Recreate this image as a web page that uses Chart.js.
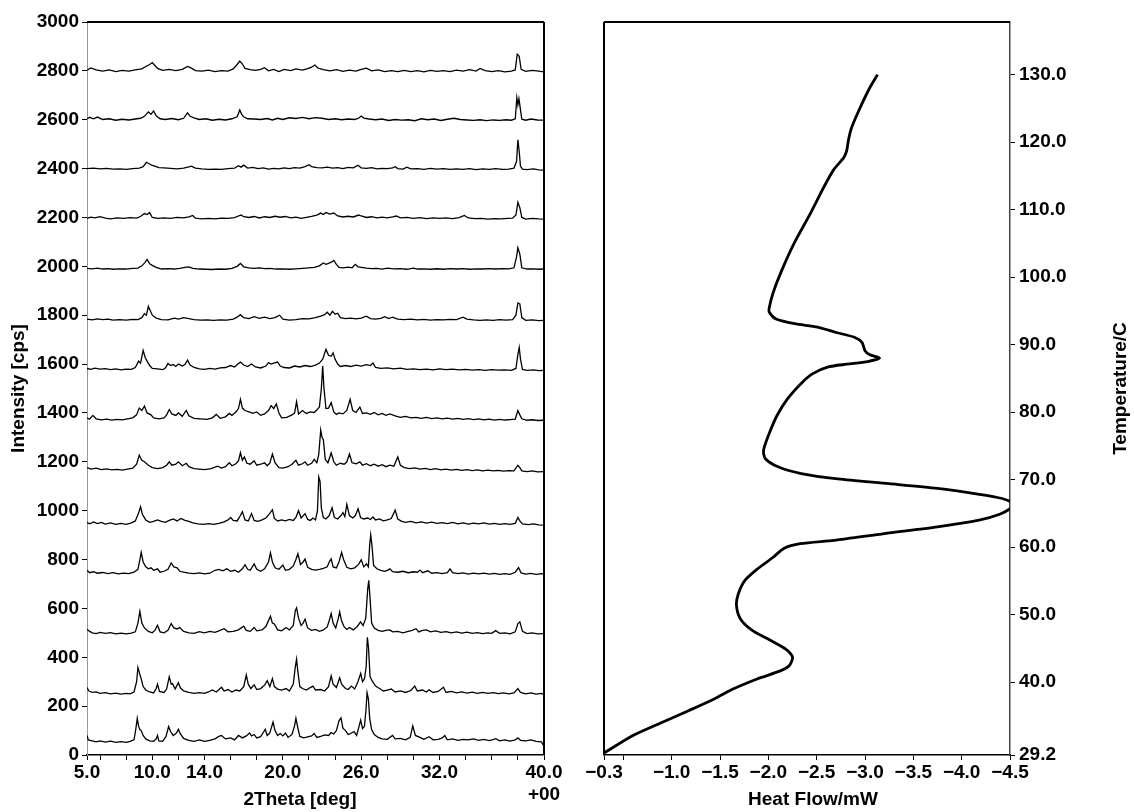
<!DOCTYPE html>
<html>
<head>
<meta charset="utf-8">
<script src="https://cdn.jsdelivr.net/npm/chart.js@4.4.1/dist/chart.umd.min.js"></script>
<style>
html, body { margin: 0; padding: 0; background: #fff; }
#xrd { position: absolute; left: 0; top: 0; }
#dsc { position: absolute; left: 575px; top: 0; }
</style>
</head>
<body>
<canvas id="xrd" width="575" height="812"></canvas>
<canvas id="dsc" width="559" height="812"></canvas>
<script>
// ========== XRD patterns, [2theta, cps], top trace first ==========
const scan1 = [[5.0,2803],[5.3,2812],[5.7,2804],[6.2,2799],[6.7,2804],[7.2,2797],[7.7,2802],[8.2,2799],[8.7,2804],[9.2,2808],[9.5,2818],[9.8,2826],[10.0,2834],[10.2,2822],[10.4,2810],[10.8,2802],[11.3,2806],[11.8,2801],[12.3,2806],[12.7,2818],[13.0,2811],[13.3,2801],[13.8,2799],[14.3,2803],[14.8,2797],[15.3,2801],[15.8,2799],[16.2,2808],[16.5,2826],[16.7,2840],[16.9,2828],[17.1,2810],[17.5,2805],[17.9,2802],[18.3,2806],[18.6,2813],[18.9,2800],[19.3,2806],[19.7,2797],[20.1,2806],[20.6,2801],[21.0,2808],[21.5,2803],[21.9,2809],[22.2,2815],[22.45,2824],[22.7,2811],[23.1,2805],[23.6,2800],[24.1,2805],[24.6,2798],[25.1,2803],[25.6,2799],[26.0,2806],[26.4,2811],[26.8,2800],[27.3,2804],[27.8,2797],[28.3,2801],[28.8,2797],[29.3,2802],[29.8,2797],[30.3,2801],[30.8,2796],[31.3,2802],[31.8,2798],[32.3,2801],[32.8,2797],[33.3,2803],[33.8,2799],[34.3,2805],[34.8,2799],[35.1,2810],[35.5,2801],[36.0,2797],[36.5,2801],[37.0,2796],[37.5,2799],[37.8,2804],[37.95,2868],[38.1,2860],[38.25,2806],[38.6,2798],[39.1,2802],[39.6,2799],[40.0,2796]];
const scan2 = [[5.0,2603],[5.2,2610],[5.5,2604],[5.8,2611],[6.2,2601],[6.7,2604],[7.2,2598],[7.7,2602],[8.2,2599],[8.7,2603],[9.1,2606],[9.4,2614],[9.7,2632],[9.9,2622],[10.1,2636],[10.3,2616],[10.6,2604],[11.0,2601],[11.5,2605],[12.0,2600],[12.4,2606],[12.7,2628],[12.9,2614],[13.2,2608],[13.6,2601],[14.1,2604],[14.6,2598],[15.1,2602],[15.6,2599],[16.1,2604],[16.5,2612],[16.7,2640],[16.85,2622],[17.0,2612],[17.3,2604],[17.8,2603],[18.3,2601],[18.8,2605],[19.2,2599],[19.6,2606],[20.0,2601],[20.5,2608],[21.0,2605],[21.5,2610],[22.0,2604],[22.5,2609],[23.0,2606],[23.5,2601],[24.0,2604],[24.5,2600],[25.0,2603],[25.5,2601],[25.8,2606],[26.0,2615],[26.2,2607],[26.6,2603],[27.1,2600],[27.6,2603],[28.1,2597],[28.6,2601],[29.1,2598],[29.6,2600],[30.1,2596],[30.6,2604],[31.1,2600],[31.6,2603],[32.1,2597],[32.6,2602],[33.1,2606],[33.6,2601],[34.1,2599],[34.6,2597],[35.1,2600],[35.6,2596],[36.1,2599],[36.6,2597],[37.1,2600],[37.5,2598],[37.8,2604],[37.92,2690],[38.0,2660],[38.08,2686],[38.2,2640],[38.3,2602],[38.6,2598],[39.0,2603],[39.5,2599],[40.0,2598]];
const scan3 = [[5.0,2400],[5.5,2402],[6.0,2399],[6.5,2401],[7.0,2398],[7.5,2399],[8.0,2397],[8.5,2400],[9.0,2402],[9.3,2408],[9.55,2426],[9.75,2420],[9.95,2414],[10.2,2410],[10.5,2404],[10.9,2403],[11.4,2401],[11.9,2399],[12.4,2402],[12.8,2407],[13.0,2410],[13.3,2402],[13.8,2399],[14.3,2397],[14.8,2398],[15.3,2397],[15.8,2400],[16.3,2402],[16.6,2412],[16.8,2406],[17.0,2414],[17.3,2402],[17.7,2405],[18.1,2400],[18.5,2403],[18.9,2398],[19.3,2401],[19.7,2399],[20.1,2403],[20.5,2400],[20.9,2404],[21.3,2402],[21.7,2408],[22.0,2416],[22.2,2408],[22.6,2404],[23.0,2403],[23.4,2406],[23.8,2402],[24.2,2404],[24.6,2400],[25.0,2405],[25.4,2403],[25.75,2414],[26.0,2403],[26.4,2401],[26.8,2404],[27.2,2399],[27.6,2401],[28.0,2400],[28.4,2403],[28.6,2408],[28.8,2400],[29.2,2398],[29.5,2406],[29.8,2399],[30.3,2400],[30.8,2397],[31.3,2401],[31.8,2398],[32.3,2400],[32.8,2397],[33.3,2399],[33.8,2397],[34.3,2400],[34.8,2396],[35.3,2399],[35.8,2397],[36.3,2400],[36.8,2397],[37.3,2398],[37.7,2402],[37.9,2430],[38.0,2518],[38.1,2470],[38.2,2410],[38.35,2398],[38.7,2396],[39.2,2399],[39.6,2395],[40.0,2394]];
const scan4 = [[5.0,2196],[5.3,2201],[5.6,2198],[6.0,2203],[6.4,2197],[6.8,2194],[7.3,2198],[7.8,2196],[8.3,2199],[8.8,2197],[9.1,2204],[9.4,2216],[9.6,2212],[9.8,2220],[10.0,2200],[10.4,2196],[10.9,2198],[11.4,2196],[11.9,2200],[12.4,2198],[12.8,2202],[13.1,2208],[13.3,2197],[13.8,2194],[14.3,2196],[14.8,2194],[15.3,2197],[15.8,2196],[16.3,2199],[16.6,2206],[16.8,2210],[17.0,2203],[17.4,2200],[17.8,2204],[18.2,2198],[18.6,2203],[19.0,2200],[19.4,2205],[19.8,2201],[20.2,2204],[20.6,2198],[21.0,2201],[21.4,2196],[21.8,2200],[22.2,2204],[22.6,2210],[22.9,2218],[23.1,2212],[23.3,2220],[23.6,2214],[23.9,2218],[24.2,2206],[24.6,2202],[25.0,2205],[25.4,2202],[25.8,2210],[26.0,2206],[26.4,2200],[26.8,2203],[27.2,2198],[27.6,2201],[28.0,2198],[28.4,2202],[28.7,2206],[29.0,2198],[29.5,2200],[30.0,2196],[30.5,2199],[31.0,2195],[31.5,2198],[32.0,2196],[32.5,2198],[33.0,2195],[33.5,2199],[33.9,2208],[34.2,2198],[34.7,2195],[35.2,2196],[35.7,2193],[36.2,2195],[36.7,2194],[37.2,2196],[37.6,2197],[37.85,2210],[38.0,2262],[38.15,2240],[38.3,2200],[38.6,2193],[39.1,2196],[39.6,2194],[40.0,2193]];
const scan5 = [[5.0,1992],[5.4,1990],[5.8,1993],[6.2,1989],[6.6,1991],[7.0,1988],[7.5,1990],[8.0,1989],[8.5,1992],[8.9,1993],[9.2,2002],[9.45,2016],[9.6,2028],[9.8,2010],[10.0,2004],[10.3,1996],[10.7,1989],[11.2,1991],[11.7,1989],[12.1,1992],[12.5,1996],[12.8,1998],[13.1,1992],[13.6,1989],[14.1,1988],[14.6,1987],[15.1,1989],[15.6,1988],[16.1,1992],[16.5,2000],[16.75,2012],[17.0,1998],[17.4,1994],[17.8,1992],[18.2,1994],[18.6,1991],[19.0,1992],[19.5,1989],[20.0,1990],[20.5,1988],[21.0,1990],[21.5,1992],[22.0,1994],[22.4,1996],[22.8,2002],[23.1,2014],[23.3,2008],[23.5,2012],[23.75,2018],[23.9,2024],[24.1,2008],[24.3,1996],[24.6,1994],[25.0,1997],[25.3,1994],[25.55,2008],[25.75,1998],[26.0,1996],[26.4,1993],[26.8,1991],[27.2,1992],[27.6,1989],[28.0,1993],[28.5,1990],[29.0,1991],[29.5,1988],[30.0,1993],[30.3,1989],[30.8,1990],[31.3,1988],[31.8,1990],[32.3,1988],[32.8,1991],[33.3,1989],[33.8,1991],[34.3,1988],[34.8,1990],[35.3,1989],[35.8,1991],[36.3,1989],[36.8,1991],[37.3,1990],[37.7,1994],[37.9,2040],[38.0,2076],[38.15,2050],[38.3,1994],[38.7,1989],[39.2,1990],[39.6,1988],[40.0,1989]];
const scan6 = [[5.0,1784],[5.4,1781],[5.8,1785],[6.2,1782],[6.6,1784],[7.0,1780],[7.5,1782],[8.0,1780],[8.5,1783],[8.9,1782],[9.2,1790],[9.4,1806],[9.55,1800],[9.7,1836],[9.85,1818],[10.0,1800],[10.3,1788],[10.7,1782],[11.2,1781],[11.7,1788],[12.0,1784],[12.4,1790],[12.8,1786],[13.2,1782],[13.7,1780],[14.2,1781],[14.7,1779],[15.2,1781],[15.7,1780],[16.2,1784],[16.5,1792],[16.75,1802],[17.0,1790],[17.4,1786],[17.8,1794],[18.2,1787],[18.6,1792],[19.0,1786],[19.4,1790],[19.75,1800],[20.0,1784],[20.5,1780],[21.0,1782],[21.5,1786],[22.0,1785],[22.5,1790],[22.9,1796],[23.2,1802],[23.4,1812],[23.6,1800],[23.8,1816],[24.0,1804],[24.2,1808],[24.4,1790],[24.8,1786],[25.2,1788],[25.6,1785],[26.0,1788],[26.4,1796],[26.7,1786],[27.1,1784],[27.5,1787],[27.8,1794],[28.1,1786],[28.4,1792],[28.8,1784],[29.3,1782],[29.8,1784],[30.3,1781],[30.8,1783],[31.3,1780],[31.8,1782],[32.3,1781],[32.8,1783],[33.3,1782],[33.8,1792],[34.1,1784],[34.6,1781],[35.1,1779],[35.6,1781],[36.1,1779],[36.6,1782],[37.1,1780],[37.6,1782],[37.85,1800],[38.0,1850],[38.15,1846],[38.3,1790],[38.6,1779],[39.1,1781],[39.6,1778],[40.0,1779]];
const scan7 = [[5.0,1582],[5.3,1578],[5.6,1583],[6.0,1579],[6.4,1581],[6.8,1577],[7.2,1580],[7.6,1576],[8.0,1579],[8.4,1578],[8.7,1586],[8.95,1612],[9.1,1604],[9.3,1656],[9.45,1628],[9.6,1612],[9.8,1594],[10.0,1582],[10.4,1580],[10.8,1577],[11.0,1584],[11.2,1602],[11.4,1594],[11.6,1598],[11.8,1590],[12.0,1600],[12.3,1592],[12.5,1598],[12.7,1616],[12.9,1596],[13.2,1586],[13.6,1580],[14.0,1578],[14.4,1582],[14.8,1579],[15.2,1584],[15.6,1586],[16.0,1594],[16.3,1588],[16.55,1600],[16.75,1608],[17.0,1596],[17.3,1590],[17.6,1600],[17.9,1588],[18.3,1584],[18.7,1592],[18.9,1606],[19.1,1600],[19.3,1604],[19.6,1608],[19.8,1592],[20.1,1586],[20.5,1584],[20.9,1592],[21.3,1588],[21.7,1594],[22.1,1590],[22.5,1596],[22.8,1604],[23.05,1620],[23.3,1660],[23.5,1636],[23.7,1632],[23.85,1646],[24.0,1620],[24.2,1600],[24.4,1590],[24.8,1594],[25.2,1590],[25.6,1596],[26.0,1592],[26.4,1598],[26.7,1594],[26.9,1604],[27.1,1586],[27.5,1582],[28.0,1584],[28.5,1580],[29.0,1583],[29.5,1578],[30.0,1580],[30.5,1577],[31.0,1579],[31.5,1576],[32.0,1580],[32.5,1577],[33.0,1579],[33.5,1576],[34.0,1578],[34.5,1575],[35.0,1577],[35.5,1574],[36.0,1577],[36.5,1575],[37.0,1576],[37.5,1574],[37.85,1582],[38.0,1640],[38.1,1668],[38.2,1620],[38.35,1578],[38.7,1574],[39.2,1576],[39.6,1573],[40.0,1574]];
const scan8 = [[5.0,1380],[5.2,1374],[5.45,1390],[5.7,1376],[6.1,1372],[6.5,1375],[6.9,1371],[7.3,1374],[7.7,1372],[8.1,1376],[8.5,1380],[8.8,1392],[9.0,1420],[9.2,1410],[9.4,1428],[9.6,1400],[9.9,1392],[10.1,1380],[10.5,1376],[10.9,1380],[11.1,1392],[11.3,1414],[11.5,1396],[11.8,1390],[12.0,1400],[12.3,1386],[12.6,1410],[12.8,1388],[13.2,1378],[13.7,1376],[14.2,1374],[14.6,1380],[14.9,1394],[15.2,1378],[15.6,1384],[15.9,1398],[16.1,1390],[16.4,1404],[16.6,1418],[16.75,1456],[16.9,1420],[17.1,1410],[17.4,1404],[17.7,1398],[18.0,1404],[18.3,1390],[18.6,1396],[18.9,1410],[19.1,1430],[19.3,1418],[19.5,1437],[19.7,1400],[19.9,1380],[20.3,1382],[20.7,1392],[20.9,1400],[21.05,1446],[21.2,1396],[21.5,1410],[21.8,1398],[22.1,1404],[22.4,1402],[22.6,1412],[22.8,1424],[22.95,1500],[23.05,1592],[23.15,1500],[23.3,1418],[23.5,1420],[23.7,1442],[23.9,1404],[24.1,1394],[24.3,1400],[24.6,1396],[24.9,1410],[25.15,1456],[25.35,1410],[25.6,1402],[25.9,1424],[26.1,1398],[26.4,1400],[26.7,1394],[27.0,1402],[27.3,1392],[27.6,1398],[27.9,1390],[28.2,1396],[28.6,1388],[29.0,1382],[29.4,1386],[29.8,1380],[30.2,1382],[30.6,1378],[31.0,1382],[31.4,1377],[31.8,1380],[32.2,1376],[32.6,1379],[33.0,1375],[33.4,1378],[33.8,1374],[34.2,1377],[34.6,1373],[35.0,1376],[35.4,1372],[35.8,1375],[36.2,1371],[36.6,1374],[37.0,1371],[37.4,1373],[37.8,1375],[38.0,1410],[38.15,1392],[38.3,1376],[38.7,1370],[39.1,1372],[39.5,1369],[40.0,1370]];
const scan9 = [[5.0,1176],[5.3,1170],[5.7,1174],[6.1,1168],[6.5,1171],[6.9,1167],[7.3,1169],[7.7,1166],[8.1,1170],[8.5,1174],[8.8,1190],[9.0,1227],[9.2,1206],[9.4,1200],[9.7,1186],[10.0,1176],[10.4,1172],[10.8,1176],[11.1,1186],[11.3,1200],[11.5,1186],[11.8,1190],[12.0,1200],[12.3,1184],[12.6,1194],[12.8,1180],[13.2,1172],[13.6,1170],[14.0,1168],[14.5,1172],[15.0,1182],[15.3,1174],[15.6,1180],[15.9,1196],[16.1,1184],[16.4,1192],[16.6,1204],[16.75,1237],[16.9,1206],[17.05,1220],[17.25,1194],[17.5,1190],[17.8,1204],[18.0,1186],[18.3,1190],[18.6,1196],[18.8,1184],[19.0,1194],[19.2,1232],[19.4,1196],[19.7,1176],[20.0,1174],[20.4,1180],[20.7,1190],[21.0,1206],[21.2,1186],[21.5,1192],[21.7,1200],[21.9,1186],[22.2,1194],[22.4,1210],[22.6,1196],[22.75,1230],[22.9,1330],[23.0,1300],[23.1,1290],[23.25,1210],[23.45,1196],[23.7,1236],[23.9,1200],[24.1,1186],[24.4,1194],[24.7,1190],[24.9,1200],[25.1,1232],[25.3,1196],[25.6,1192],[25.9,1200],[26.1,1186],[26.4,1192],[26.7,1184],[27.0,1190],[27.3,1182],[27.6,1188],[27.9,1180],[28.2,1186],[28.5,1182],[28.8,1220],[29.0,1186],[29.3,1176],[29.7,1172],[30.1,1175],[30.5,1170],[30.9,1173],[31.3,1168],[31.7,1172],[32.1,1167],[32.5,1170],[32.9,1166],[33.3,1169],[33.7,1165],[34.1,1168],[34.5,1164],[34.9,1167],[35.3,1163],[35.7,1166],[36.1,1163],[36.5,1165],[36.9,1162],[37.3,1164],[37.7,1163],[38.0,1186],[38.15,1176],[38.3,1163],[38.7,1160],[39.1,1163],[39.5,1159],[40.0,1160]];
const scan10 = [[5.0,952],[5.2,946],[5.5,954],[5.8,947],[6.1,952],[6.4,945],[6.8,950],[7.2,944],[7.6,948],[8.0,944],[8.4,950],[8.7,958],[8.95,990],[9.1,1016],[9.25,984],[9.5,962],[9.8,952],[10.1,956],[10.4,962],[10.7,956],[11.0,952],[11.3,960],[11.6,966],[11.9,958],[12.2,968],[12.5,960],[12.8,956],[13.1,950],[13.5,946],[13.9,944],[14.3,947],[14.7,944],[15.1,948],[15.5,954],[15.8,962],[16.0,972],[16.2,960],[16.5,958],[16.75,980],[16.9,996],[17.1,962],[17.35,958],[17.6,988],[17.8,960],[18.1,956],[18.4,962],[18.7,970],[18.95,986],[19.2,1004],[19.35,968],[19.6,958],[19.9,962],[20.2,958],[20.5,964],[20.8,960],[21.0,972],[21.2,1000],[21.4,970],[21.7,988],[21.9,964],[22.1,960],[22.3,970],[22.5,962],[22.65,1000],[22.75,1138],[22.85,1120],[22.95,1010],[23.1,972],[23.3,966],[23.55,980],[23.77,1012],[23.95,972],[24.2,966],[24.45,980],[24.6,992],[24.75,976],[24.9,1026],[25.1,980],[25.35,970],[25.55,980],[25.76,1008],[25.95,972],[26.2,966],[26.5,970],[26.7,964],[26.9,974],[27.1,962],[27.4,966],[27.7,958],[28.0,962],[28.3,968],[28.6,1002],[28.8,966],[29.1,956],[29.4,952],[29.8,956],[30.2,950],[30.6,954],[31.0,949],[31.4,953],[31.8,948],[32.2,951],[32.6,947],[33.0,952],[33.4,946],[33.8,950],[34.2,945],[34.6,949],[35.0,946],[35.4,950],[35.8,945],[36.2,948],[36.6,944],[37.0,947],[37.4,944],[37.8,948],[38.0,972],[38.15,958],[38.35,946],[38.8,943],[39.2,946],[39.6,942],[40.0,941]];
const scan11 = [[5.0,756],[5.2,746],[5.5,750],[5.8,744],[6.2,747],[6.6,742],[7.0,746],[7.4,741],[7.8,744],[8.2,742],[8.6,748],[8.9,760],[9.05,800],[9.15,829],[9.3,790],[9.5,770],[9.7,762],[9.9,766],[10.1,756],[10.4,762],[10.6,748],[10.9,752],[11.2,760],[11.45,786],[11.65,770],[11.9,766],[12.1,752],[12.4,748],[12.8,744],[13.2,742],[13.6,745],[14.0,741],[14.4,744],[14.8,756],[15.1,760],[15.4,754],[15.7,762],[16.0,752],[16.3,756],[16.6,748],[16.9,762],[17.1,779],[17.3,760],[17.5,756],[17.8,782],[18.0,760],[18.3,752],[18.6,762],[18.9,790],[19.05,827],[19.2,790],[19.4,766],[19.7,760],[20.0,777],[20.2,756],[20.5,760],[20.8,774],[21.0,800],[21.15,824],[21.35,780],[21.55,790],[21.7,802],[21.9,768],[22.2,760],[22.5,757],[22.8,760],[23.1,764],[23.4,770],[23.55,790],[23.7,803],[23.85,770],[24.1,766],[24.3,790],[24.5,829],[24.65,800],[24.9,768],[25.2,762],[25.5,766],[25.8,780],[26.0,799],[26.2,770],[26.4,782],[26.55,770],[26.65,860],[26.73,901],[26.82,860],[26.95,776],[27.2,762],[27.5,756],[27.8,752],[28.0,756],[28.2,762],[28.4,750],[28.8,748],[29.2,752],[29.6,746],[30.0,750],[30.3,748],[30.5,757],[30.7,746],[31.1,754],[31.4,744],[31.8,746],[32.2,742],[32.6,746],[32.8,762],[33.0,746],[33.4,742],[33.8,745],[34.2,740],[34.6,744],[35.0,741],[35.4,744],[35.8,740],[36.2,743],[36.6,739],[37.0,742],[37.4,739],[37.8,748],[38.05,767],[38.25,745],[38.6,740],[39.0,743],[39.4,739],[39.8,742],[40.0,740]];
const scan12 = [[5.0,515],[5.15,508],[5.4,500],[5.7,497],[6.0,502],[6.4,498],[6.8,501],[7.2,496],[7.6,499],[8.0,496],[8.4,499],[8.7,504],[8.9,540],[9.05,588],[9.2,540],[9.4,520],[9.7,506],[10.0,500],[10.2,510],[10.4,531],[10.6,504],[10.9,500],[11.2,510],[11.45,538],[11.65,520],[11.9,516],[12.1,522],[12.4,506],[12.8,500],[13.2,498],[13.6,505],[14.0,500],[14.4,506],[14.8,502],[15.1,508],[15.5,517],[15.8,504],[16.2,506],[16.6,512],[17.0,527],[17.2,510],[17.5,506],[17.8,522],[18.0,508],[18.4,512],[18.7,526],[18.9,550],[19.05,568],[19.2,540],[19.35,536],[19.6,512],[19.9,508],[20.25,522],[20.5,512],[20.8,530],[20.95,590],[21.05,602],[21.2,560],[21.4,530],[21.55,540],[21.7,556],[21.9,520],[22.2,510],[22.5,514],[22.8,506],[23.1,512],[23.4,524],[23.55,550],[23.7,579],[23.85,540],[24.05,520],[24.25,560],[24.35,586],[24.5,548],[24.7,524],[24.9,514],[25.1,522],[25.4,512],[25.7,526],[25.95,545],[26.15,530],[26.35,560],[26.5,680],[26.58,715],[26.68,640],[26.8,540],[27.0,520],[27.3,510],[27.6,506],[27.9,510],[28.2,512],[28.4,504],[28.8,506],[29.2,500],[29.6,506],[29.9,510],[30.2,517],[30.4,504],[30.7,510],[31.0,512],[31.3,504],[31.7,508],[32.1,502],[32.5,505],[32.9,500],[33.3,504],[33.7,499],[34.1,503],[34.5,498],[34.9,501],[35.3,497],[35.7,500],[36.0,498],[36.3,509],[36.6,498],[37.0,500],[37.4,496],[37.8,504],[38.0,538],[38.15,545],[38.35,506],[38.7,497],[39.1,500],[39.5,496],[40.0,497]];
const scan13 = [[5.0,276],[5.15,262],[5.4,256],[5.7,258],[6.0,252],[6.4,255],[6.8,250],[7.2,253],[7.6,249],[8.0,252],[8.3,250],[8.6,258],[8.8,300],[8.9,358],[9.05,330],[9.15,312],[9.3,280],[9.5,266],[9.8,258],[10.1,254],[10.3,272],[10.4,290],[10.55,260],[10.9,256],[11.1,270],[11.3,320],[11.45,290],[11.55,292],[11.75,270],[12.0,296],[12.15,275],[12.4,262],[12.8,256],[13.2,252],[13.6,255],[14.0,252],[14.3,258],[14.6,266],[14.9,258],[15.3,277],[15.5,262],[15.8,268],[16.1,258],[16.4,266],[16.7,262],[17.0,280],[17.2,327],[17.35,290],[17.55,272],[17.8,287],[18.0,268],[18.3,272],[18.6,286],[18.8,304],[19.0,280],[19.2,313],[19.35,280],[19.6,270],[19.9,266],[20.25,272],[20.5,262],[20.8,290],[20.95,360],[21.05,392],[21.15,340],[21.3,280],[21.5,272],[21.8,266],[22.1,276],[22.3,282],[22.5,266],[22.9,268],[23.2,262],[23.5,280],[23.7,324],[23.85,290],[24.1,276],[24.35,316],[24.5,290],[24.8,272],[25.0,268],[25.25,282],[25.5,270],[25.75,300],[25.96,334],[26.1,300],[26.25,312],[26.38,360],[26.47,482],[26.56,440],[26.68,320],[26.85,302],[27.1,282],[27.4,272],[27.7,262],[28.0,266],[28.3,270],[28.6,258],[29.0,262],[29.4,256],[29.8,264],[30.1,282],[30.3,262],[30.7,266],[31.0,258],[31.2,267],[31.5,256],[31.9,260],[32.3,277],[32.5,256],[32.9,260],[33.3,254],[33.7,258],[34.1,253],[34.5,257],[34.9,252],[35.3,256],[35.7,252],[36.1,255],[36.5,251],[36.9,254],[37.3,250],[37.7,254],[38.0,272],[38.2,256],[38.6,250],[39.0,254],[39.4,249],[39.8,252],[40.0,247]];
const scan14 = [[5.0,80],[5.1,62],[5.4,58],[5.7,54],[6.0,58],[6.4,53],[6.8,57],[7.2,52],[7.6,55],[8.0,52],[8.3,56],[8.6,62],[8.75,110],[8.85,150],[8.95,118],[9.05,104],[9.15,100],[9.3,80],[9.5,66],[9.8,58],[10.1,56],[10.3,66],[10.4,80],[10.5,58],[10.8,56],[11.05,76],[11.25,116],[11.4,96],[11.6,80],[11.85,90],[12.0,105],[12.15,86],[12.4,68],[12.8,60],[13.2,56],[13.6,62],[14.0,56],[14.4,60],[14.8,66],[15.1,76],[15.3,80],[15.6,66],[16.0,70],[16.3,62],[16.6,80],[16.9,70],[17.2,78],[17.45,90],[17.6,78],[17.8,84],[18.0,70],[18.3,75],[18.5,92],[18.65,105],[18.8,80],[19.0,90],[19.25,135],[19.4,100],[19.6,80],[19.8,88],[20.0,78],[20.2,90],[20.4,72],[20.7,84],[20.9,120],[21.0,150],[21.15,110],[21.3,76],[21.6,70],[21.9,74],[22.2,78],[22.4,88],[22.6,72],[22.9,76],[23.2,82],[23.5,80],[23.7,92],[23.9,86],[24.1,100],[24.3,140],[24.45,152],[24.6,110],[24.8,100],[25.0,84],[25.2,88],[25.45,96],[25.65,80],[25.8,110],[25.96,143],[26.1,108],[26.25,118],[26.36,180],[26.45,255],[26.55,230],[26.65,150],[26.8,104],[27.0,84],[27.3,72],[27.6,66],[28.0,64],[28.4,80],[28.6,66],[29.0,68],[29.4,62],[29.75,72],[29.95,119],[30.15,80],[30.5,72],[30.8,64],[31.2,75],[31.5,62],[31.9,64],[32.2,70],[32.4,80],[32.6,62],[33.0,66],[33.4,60],[33.8,64],[34.2,62],[34.6,66],[35.0,60],[35.4,64],[35.8,59],[36.1,63],[36.3,67],[36.6,58],[37.0,62],[37.4,57],[37.8,62],[38.0,70],[38.2,60],[38.6,58],[39.0,62],[39.4,56],[39.8,54],[40.0,36]];

const xrdTickValues = [5, 6, 8, 10, 12, 14, 16, 18, 20, 22, 24, 26, 28, 30, 32, 34, 36, 38, 40];
const xrdTickLabels = ['5.0', '', '', '10.0', '', '14.0', '', '', '20.0', '', '', '26.0', '', '', '32.0', '', '', '', ['40.0', '+00']];

// ========== DSC curve ==========
const dscHeat = [-0.30, -0.60, -0.91, -1.18, -1.44, -1.64, -1.89, -2.13, -2.22, -2.25, -2.18, -2.02, -1.83, -1.71, -1.67, -1.69, -1.76, -1.89, -2.05, -2.16, -2.33, -2.68, -3.20, -3.75, -4.18, -4.40, -4.52, -4.54, -4.42, -4.15, -3.75, -3.25, -2.72, -2.34, -2.10, -1.97, -1.95, -2.00, -2.09, -2.20, -2.35, -2.46, -2.62, -2.81, -3.03, -3.15, -3.05, -3.00, -2.97, -2.89, -2.70, -2.51, -2.27, -2.08, -2.01, -2.01, -2.05, -2.13, -2.27, -2.43, -2.58, -2.68, -2.78, -2.81, -2.83, -2.86, -2.94, -3.04, -3.13];
const dscTemp = [29.5, 32.1, 34.1, 35.8, 37.5, 39.0, 40.5, 41.7, 42.5, 43.7, 44.9, 46.2, 47.7, 49.4, 51.4, 53.1, 55.1, 56.8, 58.5, 59.8, 60.5, 61.0, 62.0, 63.0, 64.0, 64.9, 65.9, 66.4, 67.2, 67.9, 68.7, 69.4, 70.1, 70.9, 71.9, 73.1, 74.3, 76.5, 79.5, 82.0, 84.4, 85.7, 86.7, 87.1, 87.5, 88.0, 88.5, 89.1, 90.3, 91.1, 91.8, 92.6, 93.1, 93.8, 94.8, 95.5, 97.7, 100.7, 105.1, 109.3, 113.5, 116.0, 117.7, 118.7, 120.4, 122.1, 124.8, 127.8, 130.0];

const heatTickValues = [-0.3, -0.5, -1.0, -1.5, -2.0, -2.5, -3.0, -3.5, -4.0, -4.5];
const tempTickValues = [29.2, 40, 50, 60, 70, 80, 90, 100, 110, 120, 130];

const FONT = { family: "'Liberation Sans', Arial, sans-serif", size: 19, weight: 'bold' };
Chart.defaults.color = '#000';

// top edge plus one side edge of the plot box, and the hand-placed titles
const frame = {
    id: 'frame',
    afterDraw(chart, args, opts) {
        const { ctx, chartArea: a } = chart;
        ctx.save();
        ctx.strokeStyle = '#000';
        ctx.lineWidth = 2;
        ctx.beginPath();
        ctx.moveTo(a.left, a.top);
        ctx.lineTo(a.right, a.top);
        const x = opts.side === 'right' ? a.right : a.left;
        ctx.moveTo(x, a.top);
        ctx.lineTo(x, a.bottom);
        ctx.stroke();
        ctx.font = 'bold 19px ' + FONT.family;
        ctx.fillStyle = '#000';
        ctx.textAlign = 'center';
        ctx.textBaseline = 'middle';
        if (opts.bottomTitle) {
            ctx.fillText(opts.bottomTitle, opts.bottomTitleX, 800);
        }
        if (opts.rightTitle) {
            ctx.translate(opts.rightTitleX, (a.top + a.bottom) / 2);
            ctx.rotate(-Math.PI / 2);
            ctx.fillText(opts.rightTitle, 0, 0);
        }
        ctx.restore();
    }
};

// ========== XRD chart ==========
const xrdScans = [scan1, scan2, scan3, scan4, scan5, scan6, scan7, scan8, scan9, scan10, scan11, scan12, scan13, scan14];
new Chart(document.getElementById('xrd'), {
    type: 'scatter',
    data: {
        datasets: xrdScans.map(s => ({
            data: s.map(p => ({ x: p[0], y: p[1] })),
            showLine: true,
            borderColor: '#000',
            borderWidth: 1.3,
            pointRadius: 0,
            tension: 0
        }))
    },
    options: {
        responsive: false,
        animation: false,
        layout: { padding: { left: 0, right: 31, top: 22, bottom: 0 } },
        plugins: {
            legend: { display: false }, tooltip: { enabled: false },
            frame: { side: 'right', bottomTitle: '2Theta [deg]', bottomTitleX: 300 }
        },
        scales: {
            x: {
                type: 'linear', min: 5, max: 40,
                afterBuildTicks: s => { s.ticks = xrdTickValues.map(v => ({ value: v })); },
                afterFit: s => { s.height = 57; },
                grid: { drawOnChartArea: false, tickLength: 5, color: '#000' },
                border: { color: '#000', width: 1.5 },
                ticks: {
                    autoSkip: false, maxRotation: 0, padding: 1, font: FONT,
                    callback: v => xrdTickLabels[xrdTickValues.indexOf(v)]
                }
            },
            y: {
                min: 0, max: 3000,
                afterFit: s => { s.width = 87; },
                grid: { drawOnChartArea: false, tickLength: 5, color: '#000' },
                border: { color: '#999', width: 1 },
                ticks: { stepSize: 200, padding: 3, font: FONT, callback: v => String(v) },
                title: { display: true, text: 'Intensity [cps]', font: FONT, padding: { top: 7, bottom: 0 } }
            }
        }
    },
    plugins: [frame]
});

// ========== DSC chart ==========
new Chart(document.getElementById('dsc'), {
    type: 'scatter',
    data: {
        datasets: [{
            data: dscHeat.map((h, i) => ({ x: h, y: dscTemp[i] })),
            showLine: true,
            borderColor: '#000',
            borderWidth: 2.8,
            pointRadius: 0,
            tension: 0.25
        }]
    },
    options: {
        responsive: false,
        animation: false,
        layout: { padding: { left: 29, right: 0, top: 22, bottom: 0 } },
        plugins: {
            legend: { display: false }, tooltip: { enabled: false },
            frame: {
                side: 'left',
                bottomTitle: 'Heat Flow/mW', bottomTitleX: 238,
                rightTitle: 'Temperature/C', rightTitleX: 546
            }
        },
        scales: {
            x: {
                type: 'linear', min: -4.5, max: -0.3, reverse: true,
                afterBuildTicks: s => { s.ticks = heatTickValues.map(v => ({ value: v })); },
                afterFit: s => { s.height = 57; },
                grid: { drawOnChartArea: false, tickLength: 5, color: '#000' },
                border: { color: '#000', width: 1.5 },
                ticks: {
                    autoSkip: false, maxRotation: 0, padding: 1, font: FONT,
                    callback: v => (v === -0.5 ? '' : '\u2212' + Math.abs(v).toFixed(1))
                }
            },
            y: {
                position: 'right', min: 29.2, max: 137.8,
                afterBuildTicks: s => { s.ticks = tempTickValues.map(v => ({ value: v })); },
                afterFit: s => { s.width = 124; },
                grid: { drawOnChartArea: false, tickLength: 5, color: '#000' },
                border: { color: '#444', width: 1.5 },
                ticks: { autoSkip: false, padding: 4, font: FONT, callback: v => v.toFixed(1) }
            }
        }
    },
    plugins: [frame]
});
</script>
</body>
</html>
